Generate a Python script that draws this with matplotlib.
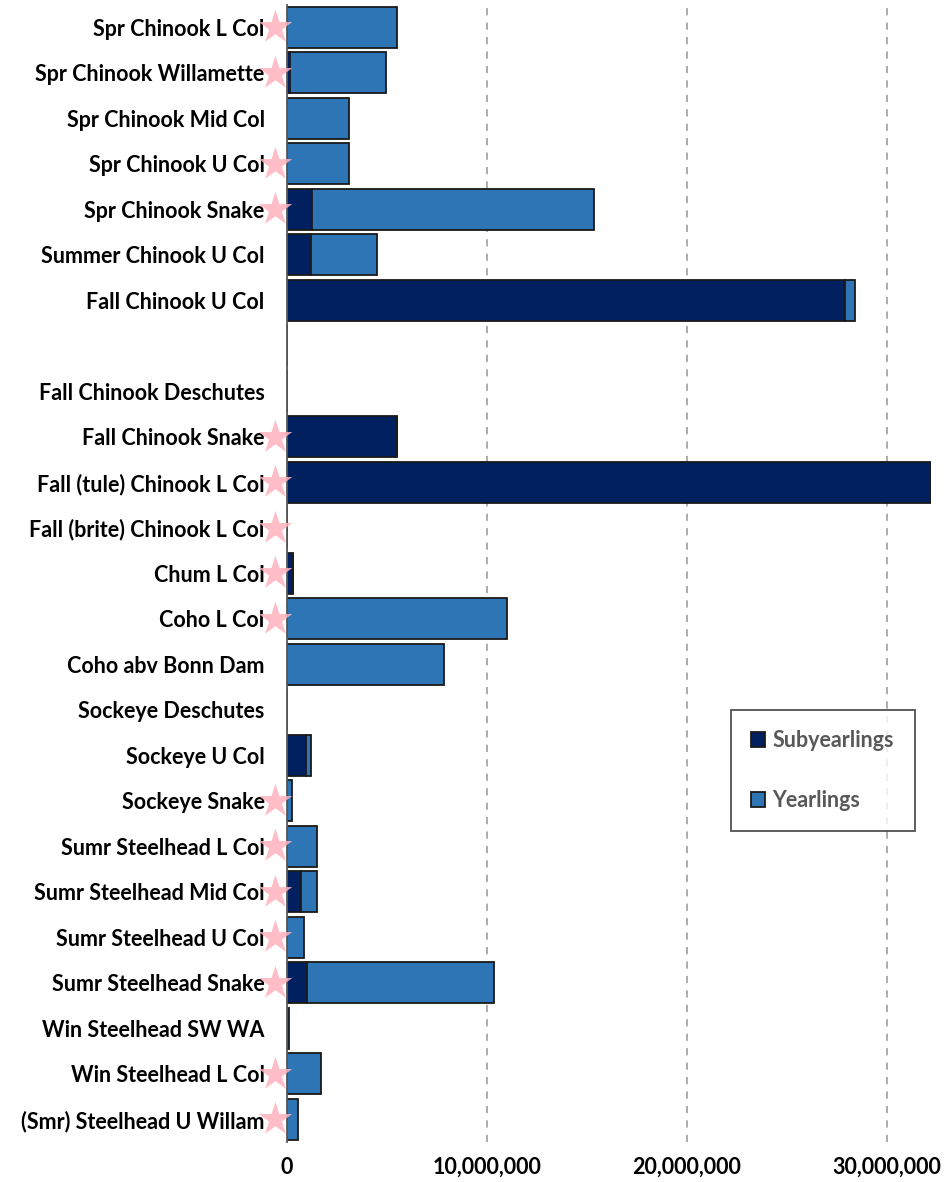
import numpy as np
import matplotlib.pyplot as plt
from matplotlib.ticker import FuncFormatter

# ===== DATA =====
categories = [
    "Spr Chinook L Col", "Spr Chinook Willamette", "Spr Chinook Mid Col",
    "Spr Chinook U Col", "Spr Chinook Snake", "Summer Chinook U Col",
    "Fall Chinook U Col", "", "Fall Chinook Deschutes", "Fall Chinook Snake",
    "Fall (tule) Chinook L Col", "Fall (brite) Chinook L Col", "Chum L Col",
    "Coho L Col", "Coho abv Bonn Dam", "Sockeye Deschutes", "Sockeye U Col",
    "Sockeye Snake", "Sumr Steelhead L Col", "Sumr Steelhead Mid Col",
    "Sumr Steelhead U Col", "Sumr Steelhead Snake", "Win Steelhead SW WA",
    "Win Steelhead L Col", "(Smr) Steelhead U Willam",
]
subyearlings = [
    0, 0.15e6, 0, 0, 1.23e6, 1.2e6,
    27.9e6, 0, 0, 5.5e6,
    32.2e6, 0, 0.32e6,
    0, 0, 0, 0.95e6,
    0, 0, 0.68e6,
    0, 0.98e6, 0,
    0, 0,
]
yearlings = [
    5.5e6, 4.78e6, 3.08e6, 3.1e6, 14.14e6, 3.28e6,
    0.5e6, 0, 0, 0,
    0, 0, 0,
    11.0e6, 7.85e6, 0, 0.25e6,
    0.27e6, 1.48e6, 0.84e6,
    0.85e6, 9.37e6, 0.12e6,
    1.7e6, 0.53e6,
]
# listed (starred) populations
starred = [
    True, True, False, True, True, False,
    False, False, False, True,
    True, True, True,
    True, False, False, False,
    True, True, True,
    True, True, False,
    True, True,
]
legend_labels = ["Subyearlings", "Yearlings"]
x_ticks = [0, 10e6, 20e6, 30e6]

# ===== STYLE =====
SUB_COLOR = "#002060"
YRL_COLOR = "#2e75b6"
EDGE = "#1a1a1a"
STAR_COLOR = "#ffb3bd"
FONT = "Lato"
LABEL_SIZE = 15.5

fig = plt.figure(figsize=(9.47, 11.82), dpi=100)
ax = fig.add_axes([0.303, 0.034, 0.680, 0.962])

y = np.arange(len(categories))
sub = np.array(subyearlings)
yrl = np.array(yearlings)

ax.barh(y, sub, height=0.9, color=SUB_COLOR, edgecolor=EDGE, linewidth=1.3,
        label=legend_labels[0], zorder=2)
ax.barh(y, yrl, left=sub, height=0.9, color=YRL_COLOR, edgecolor=EDGE,
        linewidth=1.3, label=legend_labels[1], zorder=2)

ax.set_ylim(len(categories) - 0.5, -0.5)
ax.set_xlim(0, 32.2e6)

ax.set_yticks(y)
ax.set_yticklabels(categories, fontsize=LABEL_SIZE, fontweight="bold", family=FONT)
ax.tick_params(axis="y", length=0, pad=16)

ax.set_xticks(x_ticks)
ax.xaxis.set_major_formatter(FuncFormatter(lambda v, p: f"{v:,.0f}"))
ax.tick_params(axis="x", length=0, pad=11)
for lbl in ax.get_xticklabels():
    lbl.set_fontsize(LABEL_SIZE)
    lbl.set_fontweight("bold")
    lbl.set_family(FONT)

ax.grid(axis="x", color="#a6a6a6", linestyle=(0, (4, 4)), linewidth=1.3, zorder=0)
for s in ("top", "right", "bottom"):
    ax.spines[s].set_visible(False)
ax.spines["left"].set_color("#595959")
ax.spines["left"].set_linewidth(1.3)
ax.spines["left"].set_zorder(3)

# pink stars for listed populations
star_y = [yy for yy, s in zip(y, starred) if s]
ax.scatter([-0.6e6] * len(star_y), star_y, marker="*", s=650,
           color=STAR_COLOR, alpha=0.85, linewidths=0, clip_on=False, zorder=5)

leg = ax.legend(loc="upper left", bbox_to_anchor=(0.689, 0.38), borderaxespad=0,
                frameon=True, fancybox=False, edgecolor="#262626",
                prop={"family": FONT, "weight": "bold", "size": LABEL_SIZE},
                labelspacing=1.8, borderpad=0.95, handlelength=0.65,
                handleheight=0.65, handletextpad=0.35)
leg.get_frame().set_linewidth(1.3)
for t in leg.get_texts():
    t.set_color("#595959")

fig.savefig("out.png", dpi=100)
